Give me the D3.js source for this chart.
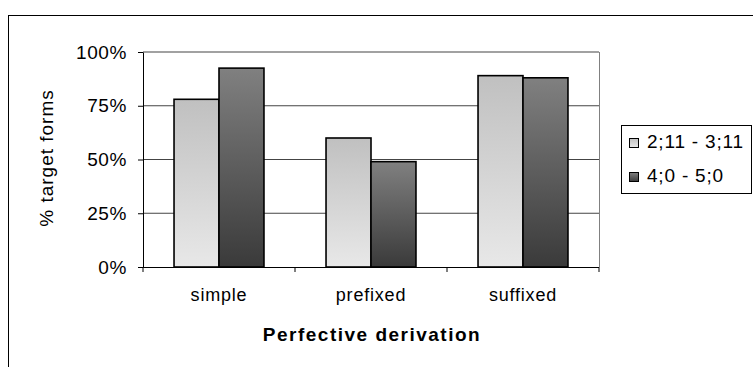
<!DOCTYPE html>
<html>
<head>
<meta charset="utf-8">
<script src="https://cdn.jsdelivr.net/npm/d3@7"></script>
<style>
  html, body { margin: 0; padding: 0; background: #fff; }
  svg { display: block; font-family: "Liberation Sans", Arial, sans-serif; }
</style>
</head>
<body>
<svg id="chart" width="753" height="367"></svg>
<script>
// Share of target forms by perfective derivation type and age group
const categories = ["simple", "prefixed", "suffixed"];
const seriesNames = ["2;11 - 3;11", "4;0 - 5;0"];
const youngerValues = [0.78, 0.60, 0.89];
const olderValues = [0.925, 0.49, 0.88];
const yTicks = [0, 0.25, 0.5, 0.75, 1];
const yTickLabels = ["0%", "25%", "50%", "75%", "100%"];

const series = [
  { name: seriesNames[0], values: youngerValues, grad: "gradLight" },
  { name: seriesNames[1], values: olderValues, grad: "gradDark" }
];

const svg = d3.select("#chart");
const plot = { left: 143, right: 599, top: 52, bottom: 267 };

// Outer chart frame (runs off the right and bottom edges)
svg.append("rect")
  .attr("x", 8.5).attr("y", 15.5)
  .attr("width", 760).attr("height", 370)
  .attr("fill", "#fff").attr("stroke", "#000").attr("stroke-width", 1);

// Vertical gradients for the two series
const defs = svg.append("defs");
const gl = defs.append("linearGradient").attr("id", "gradLight")
  .attr("x1", 0).attr("y1", 0).attr("x2", 0).attr("y2", 1);
gl.append("stop").attr("offset", "0%").attr("stop-color", "#c0c0c0");
gl.append("stop").attr("offset", "100%").attr("stop-color", "#e8e8e8");
const gd = defs.append("linearGradient").attr("id", "gradDark")
  .attr("x1", 0).attr("y1", 0).attr("x2", 0).attr("y2", 1);
gd.append("stop").attr("offset", "0%").attr("stop-color", "#808080");
gd.append("stop").attr("offset", "100%").attr("stop-color", "#3a3a3a");

const y = d3.scaleLinear().domain([0, 1]).range([plot.bottom, plot.top]);
const x0 = d3.scaleBand().domain(categories).range([plot.left, plot.right]).paddingInner(0).paddingOuter(0);
const x1 = d3.scaleBand().domain(seriesNames).range([0, x0.bandwidth()]).paddingInner(0).paddingOuter(0.69);

// Gridlines
svg.append("g").selectAll("line").data(yTicks.filter(d => d > 0)).join("line")
  .attr("x1", plot.left).attr("x2", plot.right)
  .attr("y1", d => y(d)).attr("y2", d => y(d))
  .attr("stroke", "#444").attr("stroke-width", 1.2);

// Right edge of the plot area
svg.append("line")
  .attr("x1", plot.right + 0.5).attr("x2", plot.right + 0.5)
  .attr("y1", plot.top).attr("y2", plot.bottom)
  .attr("stroke", "#808080").attr("stroke-width", 1);

// Bars
const groups = svg.append("g").selectAll("g").data(series).join("g");
groups.selectAll("rect").data(s => s.values.map((v, i) => ({ v, cat: categories[i], s }))).join("rect")
  .attr("x", d => x0(d.cat) + x1(d.s.name))
  .attr("width", x1.bandwidth())
  .attr("y", d => y(d.v))
  .attr("height", d => y(0) - y(d.v))
  .attr("fill", d => `url(#${d.s.grad})`)
  .attr("stroke", "#000").attr("stroke-width", 1.6);

// Y axis
const yAxis = d3.axisLeft(y).tickValues(yTicks).tickFormat((d, i) => yTickLabels[i])
  .tickSize(5).tickSizeOuter(0).tickPadding(11);
const ya = svg.append("g").attr("transform", `translate(${plot.left},0)`).call(yAxis);
ya.select(".domain").attr("stroke", "#000");
ya.selectAll(".tick line").attr("stroke", "#000");
ya.selectAll(".tick text").attr("font-size", 19).attr("letter-spacing", 0.6).attr("fill", "#000")
  .attr("font-family", "Liberation Sans, Arial, sans-serif");

// X axis with ticks between categories
const xa = svg.append("g").attr("transform", `translate(0,${plot.bottom})`);
xa.append("line").attr("x1", plot.left).attr("x2", plot.right)
  .attr("y1", 0.5).attr("y2", 0.5).attr("stroke", "#000");
const boundaries = categories.map(c => x0(c)).concat([plot.right]);
xa.selectAll(".xt").data(boundaries).join("line").attr("class", "xt")
  .attr("x1", d => d).attr("x2", d => d).attr("y1", 0).attr("y2", 5)
  .attr("stroke", "#000");
xa.selectAll(".xl").data(categories).join("text").attr("class", "xl")
  .attr("x", d => x0(d) + x0.bandwidth() / 2)
  .attr("y", 34)
  .attr("text-anchor", "middle")
  .attr("font-size", 18).attr("letter-spacing", 0.8)
  .text(d => d);

// Axis titles
svg.append("text")
  .attr("x", 372).attr("y", 341)
  .attr("text-anchor", "middle")
  .attr("font-size", 19).attr("font-weight", "bold").attr("letter-spacing", 1.5)
  .text("Perfective derivation");

svg.append("text")
  .attr("transform", "translate(53,158) rotate(-90)")
  .attr("text-anchor", "middle")
  .attr("font-size", 19).attr("letter-spacing", 1)
  .text("% target forms");

// Legend
const legend = svg.append("g");
legend.append("rect")
  .attr("x", 621.5).attr("y", 125.5).attr("width", 130).attr("height", 68)
  .attr("fill", "#fff").attr("stroke", "#000").attr("stroke-width", 1);
const items = legend.selectAll(".li").data(series).join("g").attr("class", "li")
  .attr("transform", (d, i) => `translate(0,${i * 34})`);
items.append("rect")
  .attr("x", 629.5).attr("y", 138.5).attr("width", 9).attr("height", 9)
  .attr("fill", d => `url(#${d.grad})`).attr("stroke", "#000");
items.append("text")
  .attr("x", 647).attr("y", 148)
  .attr("font-size", 19).attr("letter-spacing", 0.8)
  .text(d => d.name);
</script>
</body>
</html>
